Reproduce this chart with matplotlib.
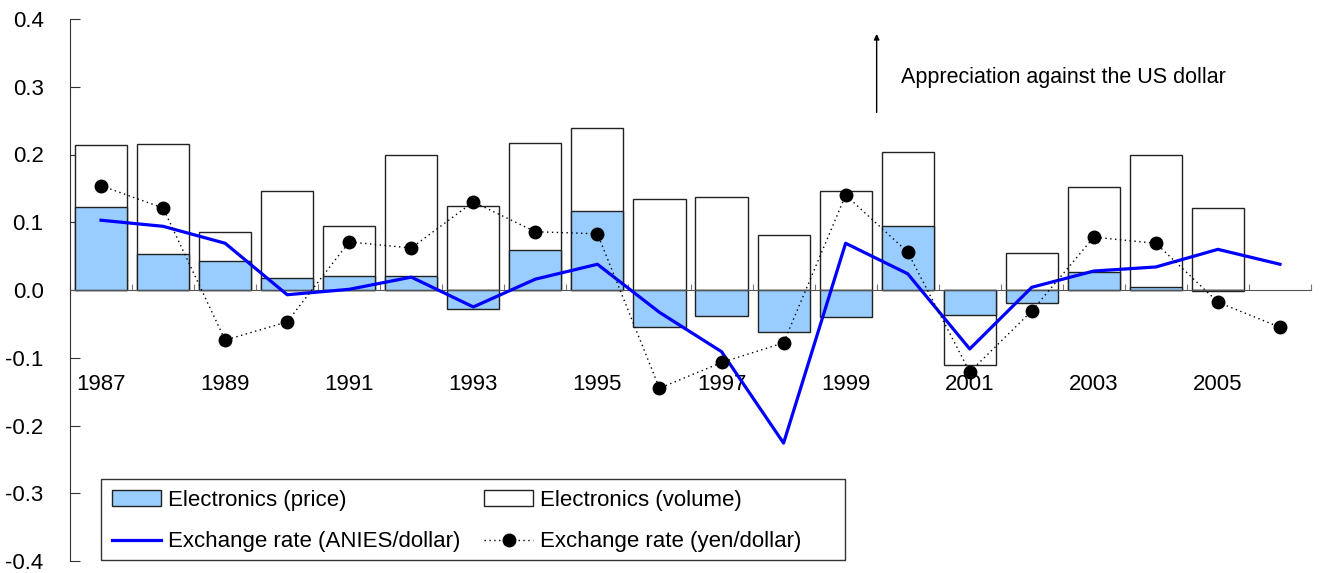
import matplotlib.pyplot as plt
from matplotlib.patches import Rectangle
import numpy as np

plt.rcParams['font.family'] = ['Liberation Sans', 'DejaVu Sans']

# data
years = list(range(1987, 2007))
volume = [0.214, 0.216, 0.086, 0.146, 0.094, 0.199, 0.124, 0.217, 0.239, 0.134,
          0.137, 0.081, 0.146, 0.204, -0.110, 0.055, 0.152, 0.200, 0.121, np.nan]
price = [0.122, 0.053, 0.043, 0.018, 0.021, 0.021, -0.028, 0.059, 0.117, -0.055,
         -0.038, -0.062, -0.040, 0.094, -0.037, -0.019, 0.027, 0.004, -0.002, np.nan]
anies = [0.103, 0.094, 0.069, -0.007, 0.001, 0.019, -0.025, 0.016, 0.038, -0.033,
         -0.091, -0.226, 0.069, 0.024, -0.087, 0.004, 0.028, 0.034, 0.060, 0.038]
yen = [0.154, 0.121, -0.074, -0.047, 0.071, 0.062, 0.130, 0.086, 0.083, -0.145,
       -0.107, -0.078, 0.140, 0.056, -0.121, -0.031, 0.078, 0.069, -0.018, -0.055]
label_years = [1987, 1989, 1991, 1993, 1995, 1997, 1999, 2001, 2003, 2005]
yticks = [-0.4, -0.3, -0.2, -0.1, 0.0, 0.1, 0.2, 0.3, 0.4]

x = np.arange(len(years))
width = 0.84
fs = 16

fig = plt.figure(figsize=(13.2, 5.73), dpi=100)
ax = fig.add_axes([70/1320, 12/573, 1241/1320, 542/573])

b_vol = ax.bar(x, volume, width, color='white', edgecolor='#222222', linewidth=1.0, zorder=2)
b_pr = ax.bar(x, price, width, color='#99CCFF', edgecolor='#222222', linewidth=1.0, zorder=3)
l_an, = ax.plot(x, anies, color='#0000FF', linewidth=2.3, zorder=4)
l_yen, = ax.plot(x, yen, color='black', linestyle=(0, (1, 2.5)), linewidth=1.0,
                 marker='o', markersize=9, zorder=5)

ax.set_xlim(-0.5, len(years) - 0.5)
ax.set_ylim(-0.4, 0.4)
ax.set_yticks(yticks)
ax.set_yticklabels([f'{v:.1f}' for v in yticks], fontsize=fs)
ax.tick_params(axis='y', direction='in', length=7, pad=19, color='#333333')

ax.spines['top'].set_visible(False)
ax.spines['right'].set_visible(False)
ax.spines['left'].set_color('#333333')
ax.spines['bottom'].set_position(('data', 0))
ax.spines['bottom'].set_color('#555555')
ax.spines['bottom'].set_zorder(3.5)
ax.set_xticks(np.arange(-0.5, len(years), 1.0))
ax.set_xticklabels([])
ax.tick_params(axis='x', direction='in', length=4, color='#777777')

for yr in label_years:
    ax.text(years.index(yr), -0.14, str(yr), ha='center', va='center', fontsize=fs, zorder=1)

# annotation arrow
ax.annotate('', xy=(12.5, 0.382), xytext=(12.5, 0.258),
            arrowprops=dict(arrowstyle='-|>', color='black', lw=1.0, mutation_scale=8))
ax.text(12.9, 0.313, 'Appreciation against the US dollar', ha='left', va='center', fontsize=15.5)

# legend box drawn separately (frame wider than its content)
ax.add_patch(Rectangle((101/1320, 13/573), 744/1320, 81/573, transform=fig.transFigure,
                       facecolor='white', edgecolor='#333333', linewidth=1.0,
                       zorder=6, clip_on=False))
leg = ax.legend([b_pr, l_an, b_vol, l_yen],
                ['Electronics (price)', 'Exchange rate (ANIES/dollar)',
                 'Electronics (volume)', 'Exchange rate (yen/dollar)'],
                ncol=2, loc='upper left', bbox_to_anchor=(112/1320, (573-490)/573),
                bbox_transform=fig.transFigure, fontsize=fs, frameon=False,
                handlelength=2.2, handletextpad=0.3, columnspacing=1.1,
                borderaxespad=0, labelspacing=0.92, borderpad=0)
leg.set_zorder(7)

fig.savefig('out.png', dpi=100)
